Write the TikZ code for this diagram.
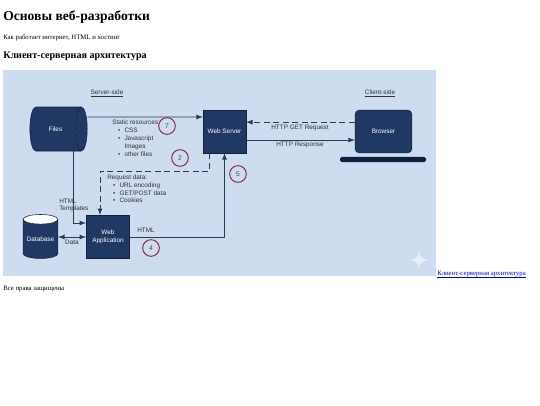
\documentclass[tikz,border=0pt]{standalone}
\usepackage{fontspec}
\setmainfont{Liberation Serif}
\newfontfamily\labelfont{Liberation Sans}
\usetikzlibrary{shapes.geometric}
\definecolor{panelblue}{HTML}{CDDCEE}
\definecolor{boxblue}{HTML}{1F3864}
\definecolor{basenavy}{HTML}{0B1F40}
\definecolor{linkblue}{HTML}{0000EE}
\definecolor{flowgrey}{HTML}{2B3A55}
\definecolor{ringred}{HTML}{8E2F45}
\newcommand{\bul}[1]{\makebox[9.2pt][r]{\textbullet\hspace{3.2pt}}#1}
\tikzset{
  box/.style={draw=boxblue!60!black, fill=boxblue, text=white, inner sep=0pt, align=center, font=\labelfont\fontsize{4.8}{6.2}\selectfont},
  can/.style={box, fill=none, cylinder, cylinder uses custom fill, cylinder body fill=boxblue},
  label/.style={text=black!80, inner sep=0pt, font=\labelfont\fontsize{4.8}{5.6}\selectfont},
  listing/.style={label, anchor=north west, align=left, font=\labelfont\fontsize{4.8}{5.85}\selectfont},
  ring/.style={circle, draw=ringred, line width=0.75pt, minimum size=12.5pt, inner sep=0pt, text=black!70, font=\labelfont\fontsize{5}{5}\selectfont},
  flow/.style={->, >=latex, draw=flowgrey, line width=0.7pt},
  backflow/.style={flow, dash pattern=on 4.5pt off 2.6pt},
  page/.style={anchor=west, inner sep=0pt}
}
\begin{document}
\begin{tikzpicture}[x=0.75pt,y=-0.75pt]
  \useasboundingbox (0,0) rectangle (540,405);
  % page text
  \node[page, font=\bfseries\fontsize{10.2}{12}\selectfont] (title) at (3,17) {Основы веб-разработки};
  \node[page, font=\fontsize{5.07}{6}\selectfont] (intro) at (3,37.5) {Как работает интернет, HTML и хостинг};
  \node[page, font=\bfseries\fontsize{7.55}{9}\selectfont] (heading) at (3,56) {Клиент-серверная архитектура};
  \node[page, text=linkblue, font=\fontsize{5.05}{6}\selectfont] (link) at (437,277) {\underline{\smash{Клиент-серверная архитектура}}};
  \node[page, font=\fontsize{5.07}{6}\selectfont] (footer) at (3,288.5) {Все права защищены};
  % panel
  \fill[panelblue] (3,70) rectangle (436,276);
  \fill[white, opacity=0.55] (419,251) .. controls (420,257) and (422,259) .. (428,260) .. controls (422,261) and (420,263) .. (419,269) .. controls (418,263) and (416,261) .. (410,260) .. controls (416,259) and (418,257) .. (419,251) -- cycle;
  % nodes
  \node[label] (server) at (107,95.5) {\underline{\smash{Server-side}}};
  \node[label] (client) at (380,95.5) {\underline{\smash{Client-side}}};
  \node[can, cylinder end fill=boxblue, shape aspect=2.5, minimum width=33pt, minimum height=43pt] (files) at (55.5,129) {Files};
  \node[box, minimum width=32pt, minimum height=32pt] (web) at (224.5,131.5) {Web Server};
  \node[box, rounded corners=3pt, minimum width=42.5pt, minimum height=32pt] (browser) at (383.5,131.5) {Browser};
  \node[fill=basenavy, rounded corners=1.2pt, minimum width=64.5pt, minimum height=3.8pt, inner sep=0pt] (base) at (383,159.5) {};
  \node[box, minimum width=32.5pt, minimum height=32.5pt] (app) at (108,237) {Web\\Application};
  \node[can, shape border rotate=90, shape aspect=0.35, cylinder end fill=white, minimum width=26pt, minimum height=33pt] (db) at (40.5,239) {Database};
  \node[listing] (static) at (112,120) {Static resources:\\\bul{CSS}\\\bul{Javascript}\\\hspace{9.2pt}Images\\\bul{other files}};
  \node[listing] (request) at (107,174.5) {Request data:\\\bul{URL encoding}\\\bul{GET/POST data}\\\bul{Cookies}};
  \node[label, anchor=west, align=left] (templates) at (59,205.5) {HTML\\Templates};
  \node[label] (data) at (72,242.5) {Data};
  \node[label] (html) at (146,230.5) {HTML};
  \node[label] (get) at (300,127.5) {HTTP GET Request};
  \node[label] (response) at (300,145) {HTTP Response};
  \node[ring] (r7) at (167,126) {7};
  \node[ring] (r2) at (180,158) {2};
  \node[ring] (r5) at (238,174) {5};
  \node[ring] (r4) at (151,248) {4};
  % connectors
  \draw[flow] ([yshift=9pt]files.east) -- ([yshift=10.9pt]web.west);
  \draw[flow] ([xshift=13.15pt]files.south) |- ([yshift=10.5pt]app.west);
  \draw[backflow] ([xshift=-11.6pt]web.south) |- (100,171) -- ([xshift=-6pt]app.north);
  \draw[flow] (app.east) -| (web.south);
  \draw[flow, <->] (db.east |- app.west) -- (app.west);
  \draw[backflow] ([yshift=7pt]browser.west) -- ([yshift=7pt]web.east);
  \draw[flow] ([yshift=-6.4pt]web.east) -- ([yshift=-6.4pt]browser.west);
\end{tikzpicture}
\end{document}
